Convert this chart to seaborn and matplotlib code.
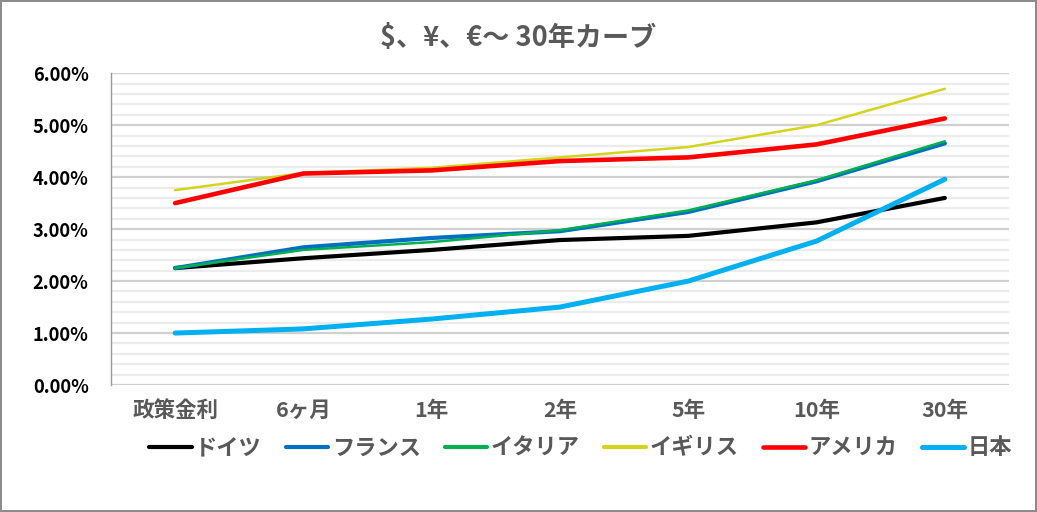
import matplotlib
matplotlib.use("Agg")
import matplotlib.pyplot as plt
import seaborn as sns
import pandas as pd
from matplotlib.ticker import MultipleLocator, FuncFormatter

categories = ["政策金利", "6ヶ月", "1年", "2年", "5年", "10年", "30年"]
germany = [2.25, 2.44, 2.60, 2.79, 2.87, 3.13, 3.60]
france = [2.25, 2.65, 2.83, 2.96, 3.33, 3.92, 4.65]
italy = [2.25, 2.60, 2.75, 2.98, 3.36, 3.94, 4.69]
uk = [3.75, 4.08, 4.18, 4.38, 4.58, 5.00, 5.70]
usa = [3.50, 4.07, 4.13, 4.31, 4.38, 4.63, 5.13]
japan = [1.00, 1.08, 1.27, 1.50, 2.00, 2.77, 3.96]
series_names = ["ドイツ", "フランス", "イタリア", "イギリス", "アメリカ", "日本"]
title = "$、¥、€～ 30年カーブ"

colors = ["#000000", "#0070C0", "#00B050", "#D4D41C", "#FF0000", "#00B0F0"]
widths = [3.0, 3.0, 1.8, 1.8, 3.3, 3.6]

sns.set_theme(style="white")
plt.rcParams['font.family'] = ['Noto Sans CJK JP', 'DejaVu Sans']

rows = []
for name, vals in zip(series_names, [germany, france, italy, uk, usa, japan]):
    for i, (c, v) in enumerate(zip(categories, vals)):
        rows.append({"pos": i, "cat": c, "val": v, "series": name})
df = pd.DataFrame(rows)

fig = plt.figure(figsize=(10.37, 5.12), dpi=100, edgecolor="#8c8c8c", linewidth=1.5)
ax = fig.add_axes([0.107, 0.248, 0.866, 0.609])

for name, col, lw in zip(series_names, colors, widths):
    sub = df[df.series == name]
    sns.lineplot(data=sub, x="pos", y="val", ax=ax, color=col, linewidth=lw,
                 label=name, solid_capstyle="round", legend=False)

ax.set_xlim(-0.5, 6.5)
ax.set_ylim(0, 6)
ax.yaxis.set_major_locator(MultipleLocator(1))
ax.yaxis.set_minor_locator(MultipleLocator(0.2))
ax.yaxis.set_major_formatter(FuncFormatter(lambda v, p: f"{v:.2f}%"))
ax.set_xticks(range(len(categories)))
ax.set_xticklabels(categories)
ax.grid(True, which="major", axis="y", color="#d0d0d0", linewidth=1.6)
ax.grid(True, which="minor", axis="y", color="#ececec", linewidth=1.6)
ax.grid(False, axis="x")
ax.set_axisbelow(True)
for s in ["top", "right", "bottom"]:
    ax.spines[s].set_visible(False)
ax.spines["left"].set_color("#999999")
ax.spines["left"].set_linewidth(1.0)
ax.set_xlabel("")
ax.set_ylabel("")
ax.tick_params(axis="y", which="both", length=0, pad=16, labelsize=13.2, labelcolor="#000000")
ax.tick_params(axis="x", length=0, pad=11, labelsize=15.5, labelcolor="#595959")
for lab in ax.get_yticklabels() + ax.get_xticklabels():
    lab.set_fontweight("bold")

fig.text(0.5, 0.925, title, ha="center", va="center", fontsize=19.5, fontweight="bold", color="#595959")

handles = [plt.Line2D([], [], color=c, linewidth=max(w, 3.0), solid_capstyle="round") for c, w in zip(colors, widths)]
leg = fig.legend(handles, series_names, loc="center", bbox_to_anchor=(0.56, 0.125), ncol=6,
                 frameon=False, handlelength=1.9, handletextpad=0.15, columnspacing=1.1,
                 prop={"size": 16, "weight": "bold"})
for t in leg.get_texts():
    t.set_color("#595959")

fig.savefig("out.png", dpi=100)
